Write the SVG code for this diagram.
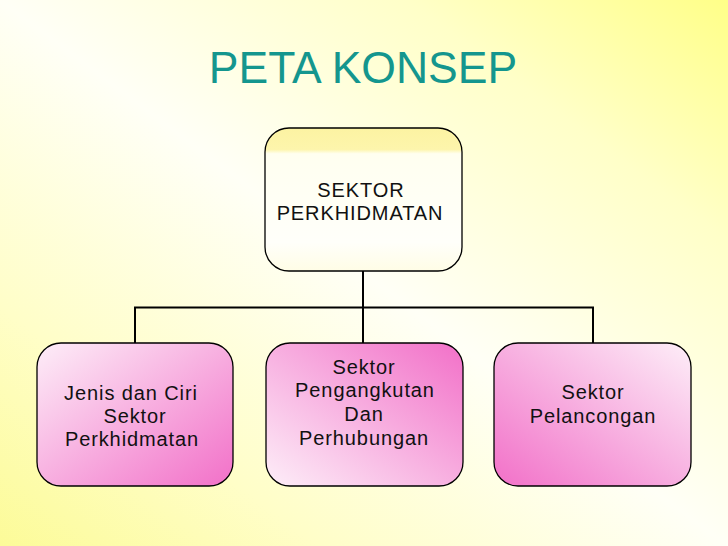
<svg xmlns="http://www.w3.org/2000/svg" width="728" height="546" viewBox="0 0 728 546">
<defs>
<linearGradient id="bg" x1="1" y1="0" x2="0" y2="1">
<stop offset="0" stop-color="#ffff88"/>
<stop offset="0.22" stop-color="#ffffc8"/>
<stop offset="0.5" stop-color="#fffff6"/>
<stop offset="0.78" stop-color="#fffec8"/>
<stop offset="1" stop-color="#fcfb98"/>
</linearGradient>
<linearGradient id="top" x1="0" y1="0" x2="0" y2="1">
<stop offset="0" stop-color="#fcf3a2"/>
<stop offset="0.15" stop-color="#fdf5ac"/>
<stop offset="0.18" stop-color="#fffff0"/>
<stop offset="0.8" stop-color="#fffffa"/>
<stop offset="1" stop-color="#fffde6"/>
</linearGradient>
<linearGradient id="pinkL" x1="0" y1="0" x2="1" y2="1">
<stop offset="0" stop-color="#fdeef8"/>
<stop offset="1" stop-color="#f270c8"/>
</linearGradient>
<linearGradient id="pinkM" x1="0" y1="1" x2="1" y2="0">
<stop offset="0" stop-color="#fdeef8"/>
<stop offset="1" stop-color="#f270c8"/>
</linearGradient>
<linearGradient id="pinkR" x1="1" y1="0" x2="0" y2="1">
<stop offset="0" stop-color="#fdeef8"/>
<stop offset="1" stop-color="#f270c8"/>
</linearGradient>
<style>
.box{stroke:#000;stroke-width:1.3}
.t{font-family:"Liberation Sans",Arial,sans-serif;font-size:20px;fill:#111;text-anchor:middle;letter-spacing:0.9px}
.conn{stroke:#000;stroke-width:2;fill:none}
.title{font-family:"Liberation Sans",Arial,sans-serif;font-size:44.5px;fill:#14968e;text-anchor:middle}
</style>
</defs>
<rect width="728" height="546" fill="url(#bg)"/>
<text class="title" x="363" y="83">PETA KONSEP</text>
<g id="connectors">
<path class="conn" d="M363,271 V343 M135,343 V307.5 H593 V343"/>
</g>
<g id="root">
<rect class="box" x="265" y="128" width="197" height="143" rx="24" fill="url(#top)"/>
<text class="t" x="361" y="197">SEKTOR</text>
<text class="t" x="360" y="220">PERKHIDMATAN</text>
</g>
<g id="jenis">
<rect class="box" x="37" y="343" width="196" height="143" rx="24" fill="url(#pinkL)"/>
<text class="t" x="131" y="400">Jenis dan Ciri</text>
<text class="t" x="135" y="423">Sektor</text>
<text class="t" x="132" y="446">Perkhidmatan</text>
</g>
<g id="pengangkutan">
<rect class="box" x="266" y="343" width="197" height="143" rx="24" fill="url(#pinkM)"/>
<text class="t" x="364" y="374">Sektor</text>
<text class="t" x="365" y="397">Pengangkutan</text>
<text class="t" x="364" y="421">Dan</text>
<text class="t" x="364" y="445">Perhubungan</text>
</g>
<g id="pelancongan">
<rect class="box" x="494" y="343" width="197" height="143" rx="24" fill="url(#pinkR)"/>
<text class="t" x="593" y="399">Sektor</text>
<text class="t" x="593" y="423">Pelancongan</text>
</g>
</svg>
